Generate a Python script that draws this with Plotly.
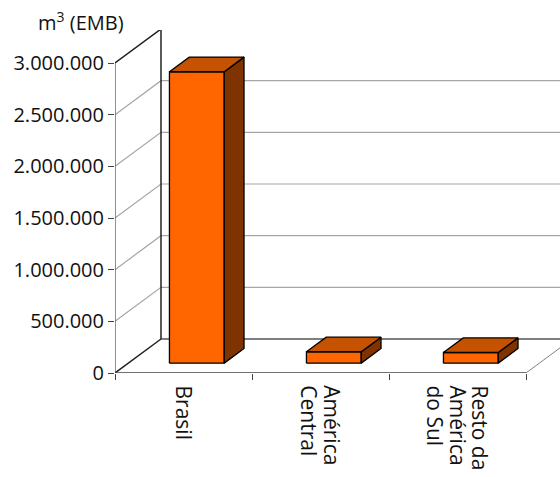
import plotly.graph_objects as go

# ---- data ----
categories = ["Brasil", "América<br>Central", "Resto da<br>América<br>do Sul"]
values = [2820000, 110000, 103000]
y_ticks = [0, 500000, 1000000, 1500000, 2000000, 2500000, 3000000]
unit_label = "m<sup>3</sup> (EMB)"

# ---- 3D oblique projection settings ----
W, H = 560, 477
ML, MR, MT, MB = 115, 0, 30, 104
px_per_cat = 137.0
px_per_val = 310.0 / 3000000
DX = 46 / px_per_cat              # full depth, in category units
DY = 34 / px_per_val              # full depth, in value units
D0, D1 = 0.29, 0.72               # bar front/back depth fraction
BW = 0.40                          # bar width (category units)
LINE_GAP = 22.5                    # px between label lines
n = len(categories)
xmax = (W - ML - MR) / px_per_cat
ymax = (H - MT - MB) / px_per_val
plot_h = H - MT - MB


def P(x, v, d):
    return x + d * DX, v + d * DY


fig = go.Figure()


def line(pts, color, width):
    xs = [p[0] for p in pts]
    ys = [p[1] for p in pts]
    fig.add_trace(go.Scatter(x=xs, y=ys, mode="lines",
                             line=dict(color=color, width=width),
                             hoverinfo="skip", showlegend=False))


def poly(pts, fill):
    xs = [p[0] for p in pts] + [pts[0][0]]
    ys = [p[1] for p in pts] + [pts[0][1]]
    fig.add_trace(go.Scatter(x=xs, y=ys, mode="lines", fill="toself",
                             fillcolor=fill, line=dict(color="black", width=1.3),
                             hoverinfo="skip", showlegend=False))


top = y_ticks[-1]
# gridlines on left wall and back wall
for v in y_ticks[1:-1]:
    line([P(0, v, 0), P(0, v, 1), P(n, v, 1), P(n + 1, v, 1)], "#A6A6A6", 1.2)
# top edge
line([P(0, top, 0), P(0, top, 1), P(n + 1, top, 1)], "#222222", 1.5)
# floor
line([P(0, 0, 0), P(0, 0, 1)], "#222222", 1.5)
line([P(0, 0, 1), P(n + 1, 0, 1)], "#555555", 1.3)
line([P(n, 0, 0), P(n, 0, 1)], "#808080", 1.0)
# back wall left edge
line([P(0, 0, 1), P(0, top, 1)], "#222222", 1.5)
# front axis line
line([P(0, 0, 0), P(0, top, 0)], "#555555", 1.3)
line([P(0, 0, 0), P(n, 0, 0)], "#444444", 1.3)

# bars
for i, v in enumerate(values):
    c = i + 0.5
    x0, x1 = c - BW / 2, c + BW / 2
    poly([P(x0, 0, D0), P(x1, 0, D0), P(x1, v, D0), P(x0, v, D0)], "#FF6600")
    poly([P(x1, 0, D0), P(x1, 0, D1), P(x1, v, D1), P(x1, v, D0)], "#7F3300")
    poly([P(x0, v, D0), P(x1, v, D0), P(x1, v, D1), P(x0, v, D1)], "#C45200")

annotations = [dict(text=unit_label, xref="paper", yref="paper",
                    x=-0.178, y=1.025, xanchor="left", yanchor="middle",
                    showarrow=False, font=dict(size=20, color="#111111"))]

# rotated category labels (one annotation per line for tight line spacing)
for i, cat in enumerate(categories):
    parts = cat.split("<br>")
    k = len(parts)
    for j, txt in enumerate(parts):
        off_px = ((k - 1) / 2 - j) * LINE_GAP
        annotations.append(dict(
            text=txt, xref="x", yref="paper",
            x=i + 0.5 + off_px / px_per_cat, y=-10 / plot_h,
            xanchor="center", yanchor="top", textangle=90,
            showarrow=False, font=dict(size=21, color="#111111")))

fig.update_layout(
    width=W, height=H, autosize=False,
    margin=dict(l=ML, r=MR, t=MT, b=MB, pad=0),
    plot_bgcolor="white", paper_bgcolor="white",
    separators=",.",
    font=dict(family="Open Sans", color="#111111"),
    showlegend=False,
    xaxis=dict(range=[0, xmax], showgrid=False, zeroline=False, showline=False,
               showticklabels=False, ticks="",
               minor=dict(tickvals=list(range(n + 1)), ticks="outside",
                          ticklen=6, tickcolor="#444444", tickwidth=1.2),
               fixedrange=True),
    yaxis=dict(range=[0, ymax], showgrid=False, zeroline=False, showline=False,
               tickvals=y_ticks, tickformat=",d", ticks="outside", ticklen=6,
               tickcolor="#444444", tickwidth=1.2,
               tickfont=dict(size=20, color="#111111"), fixedrange=True),
    annotations=annotations,
)

fig.write_html("out.html")
